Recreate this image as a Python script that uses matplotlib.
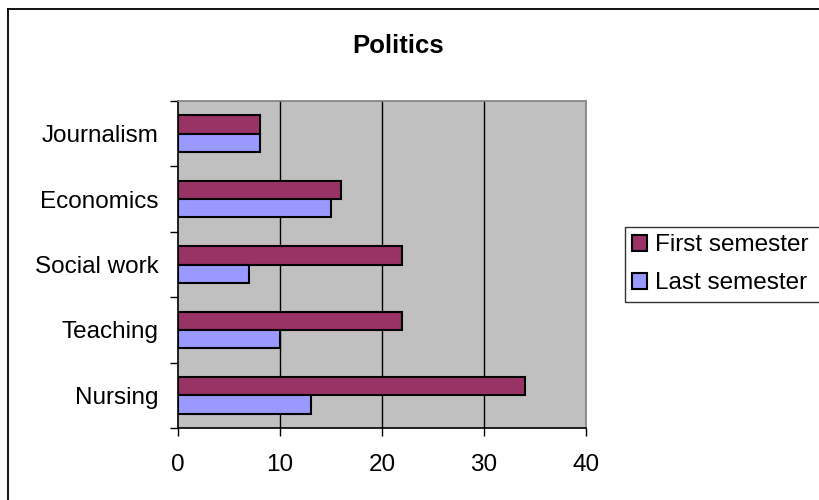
import numpy as np
import matplotlib.pyplot as plt
from matplotlib.lines import Line2D

categories = ["Nursing", "Teaching", "Social work", "Economics", "Journalism"]
first_semester = [34, 22, 22, 16, 8]
last_semester = [13, 10, 7, 15, 8]
x_ticks = [0, 10, 20, 30, 40]

plt.rcParams['font.family'] = ['Liberation Sans', 'DejaVu Sans']
fs = 17.5

fig = plt.figure(figsize=(8.19, 5.0), dpi=100)
ax = fig.add_axes([178 / 819, 1 - 428 / 500, 408 / 819, 327 / 500])
ax.set_facecolor('#C0C0C0')

y = np.arange(len(categories))
h = 0.28
ax.barh(y + h / 2, first_semester, height=h, color='#993366', edgecolor='black',
        linewidth=1.5, label="First semester", zorder=3)
ax.barh(y - h / 2, last_semester, height=h, color='#9999FF', edgecolor='black',
        linewidth=1.5, label="Last semester", zorder=3)

ax.set_xlim(0, 40)
ax.set_ylim(-0.5, len(categories) - 0.5)
ax.set_xticks(x_ticks)
ax.set_xticklabels([str(v) for v in x_ticks], fontsize=fs)
ax.tick_params(axis='x', direction='out', length=6, width=1, pad=13, color='black')

# category labels at centres, ticks at the boundaries
ax.set_yticks(y)
ax.set_yticklabels(categories, fontsize=fs)
ax.tick_params(axis='y', which='major', length=0, pad=14)
ax.set_yticks(np.arange(-0.5, len(categories)), minor=True)
ax.tick_params(axis='y', which='minor', direction='out', length=6, width=1, color='black')

for v in x_ticks[1:-1]:
    ax.axvline(v, color='black', linewidth=1, zorder=1)

ax.spines['left'].set_color('black')
ax.spines['bottom'].set_color('black')
ax.spines['top'].set_color('#808080')
ax.spines['right'].set_color('#808080')
for s in ax.spines.values():
    s.set_linewidth(1.2)
    s.set_zorder(4)

fig.text(398 / 819, 1 - 46 / 500, "Politics", fontsize=18.5, fontweight='bold',
         ha='center', va='center')

leg = fig.legend(loc='upper left',
                 bbox_to_anchor=(625 / 819, 1 - 227 / 500, 200 / 819, 0.0),
                 mode='expand',
                 fontsize=fs, frameon=True, fancybox=False, shadow=False,
                 handlelength=0.62, handleheight=0.62, handletextpad=0.3,
                 borderpad=0.3, labelspacing=0.66, borderaxespad=0)
leg.get_frame().set_edgecolor('black')
leg.get_frame().set_linewidth(1)
for p in leg.get_patches():
    p.set_linewidth(1.5)

# chart area border (top and left visible)
fig.add_artist(Line2D([8 / 819, 8 / 819], [0, 1 - 9 / 500], color='black', linewidth=1.3,
                      transform=fig.transFigure))
fig.add_artist(Line2D([8 / 819, 1], [1 - 9 / 500, 1 - 9 / 500], color='black', linewidth=1.3,
                      transform=fig.transFigure))

plt.savefig("out.png", dpi=100)
